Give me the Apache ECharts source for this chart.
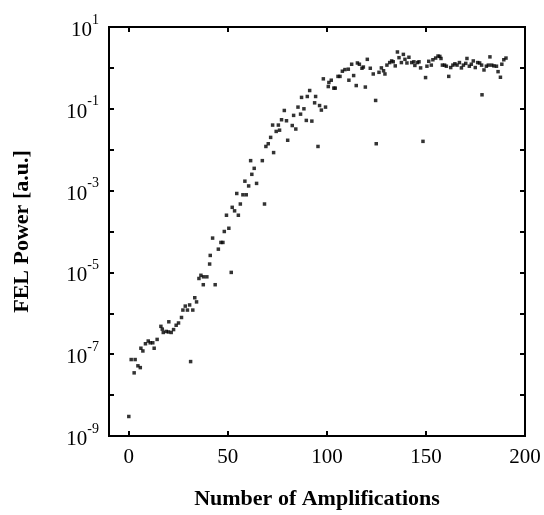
<!DOCTYPE html>
<html>
<head>
<meta charset="utf-8">
<script src="https://cdn.jsdelivr.net/npm/echarts@6/dist/echarts.min.js"></script>
<style>html,body{margin:0;padding:0;background:#fff;}#c{width:544px;height:515px;}</style>
</head>
<body>
<div id="c"></div>
<script>
var amplifications = [0,1.2,2.7,3.2,4.6,5.8,6.1,7.1,8.4,9.8,10.8,12.1,12.8,14.3,16.2,16.9,17.4,18.9,20.2,20,21.4,22.6,23.9,25.1,26.6,27.3,28.5,29.6,30.7,32.3,31.2,33.3,34.2,35.4,36.4,37.7,39.4,37.6,43.6,40.8,41.1,45.2,46.5,47.5,42.3,48.2,50.5,51.7,49.3,55.3,52.2,53.4,56.3,68.5,54.5,57.6,59.3,58.6,60.5,64.5,62.1,63.3,61.5,67.4,73.1,69.2,70.4,71.6,72.6,75.5,74.4,76.1,80.2,77.1,79.6,95.5,78.5,82.5,84.3,83.2,85.4,86.7,88.4,87.2,90.1,91.3,89.6,92.4,93.8,94.3,96.3,97.2,99.3,98.2,101,102.2,100.7,103.5,104.2,105.6,106.6,107.8,109.1,110.8,112.5,115.4,111.1,113.5,114.8,116.4,117.7,118.4,119.4,120.4,121.9,123.4,124.6,124.9,126.3,127.5,128.6,129.3,130.3,131.7,132.7,133.5,134.5,135.6,136.4,137.6,138.6,139.4,140.4,141.4,142.8,143.9,144.4,145.7,146.5,147.3,148.5,149.8,150.5,151.4,152.7,153.5,154.9,156.1,157,157.6,158.3,159.4,160.3,161.5,162.5,163.6,164.6,165.7,166.9,167.9,168.9,170.1,170.7,171.9,172.9,173.9,174.9,176.1,177.1,178.1,178.3,179.3,180.5,181.5,182.3,183.2,184.3,185.6,186.4,187.6,188.3,189.3,190.4];
var power = [3.0e-9,7.4e-8,3.5e-8,7.4e-8,5.2e-8,4.7e-8,1.4e-7,1.2e-7,1.8e-7,2.1e-7,1.9e-7,1.9e-7,1.4e-7,2.3e-7,4.8e-7,4.1e-7,3.4e-7,3.6e-7,6.2e-7,3.5e-7,3.4e-7,4.0e-7,5.1e-7,5.8e-7,7.9e-7,1.2e-6,1.5e-6,1.2e-6,1.6e-6,1.2e-6,6.6e-8,2.4e-6,1.9e-6,7.1e-6,8.5e-6,7.8e-6,7.8e-6,5.0e-6,5.0e-6,1.6e-5,2.6e-5,3.7e-5,5.4e-5,5.4e-5,6.9e-5,1.0e-4,1.2e-4,1.0e-5,2.5e-4,2.5e-4,3.9e-4,3.2e-4,4.7e-4,4.7e-4,8.5e-4,7.9e-4,7.9e-4,1.7e-3,1.3e-3,1.5e-3,2.5e-3,3.5e-3,5.4e-3,5.4e-3,8.5e-3,1.2e-2,1.4e-2,2.0e-2,4.0e-2,4.0e-2,2.8e-2,3.0e-2,1.7e-2,5.4e-2,5.1e-2,1.2e-2,9.1e-2,3.9e-2,3.2e-2,6.9e-2,0.11,7.4e-2,0.10,0.19,0.20,0.28,5.2e-2,5.0e-2,0.14,0.20,0.12,9.3e-2,0.11,0.54,0.44,0.50,0.35,0.32,0.32,0.62,0.62,0.83,0.91,0.93,1.23,1.32,0.50,0.65,0.37,1.23,0.98,1.05,0.34,1.62,0.98,0.71,0.16,0.014,0.78,1.0,0.85,0.71,1.17,1.35,1.48,1.41,1.12,2.45,1.78,1.35,2.14,1.62,1.32,1.82,1.35,1.41,1.15,1.35,1.41,1.0,0.016,0.58,1.10,1.45,1.17,1.58,1.74,1.95,1.91,1.70,1.17,1.17,1.10,0.62,1.02,1.17,1.26,1.17,1.35,1.0,1.17,1.29,1.70,1.10,1.23,1.48,1.02,1.35,1.32,1.17,0.22,0.89,1.10,1.17,1.86,1.17,1.12,1.10,0.81,0.59,1.23,1.58,1.74];
var xTicks = [0, 50, 100, 150, 200];
var yLabelExponents = [1, -1, -3, -5, -7, -9];

var points = amplifications.map(function (a, i) { return [a, power[i]]; });
var serif = '"Liberation Serif", "Times New Roman", serif';

var chart = echarts.init(document.getElementById('c'), null, {renderer: 'canvas'});
function yFmt(v) {
  var e = Math.round(Math.log(v) / Math.LN10);
  if (yLabelExponents.indexOf(e) < 0) return '';
  return '{b|10}{s|' + e + '}';
}
var tickStyle = {show: true, inside: true, length: 5, lineStyle: {color: '#000', width: 2}};
chart.setOption({
  animation: false,
  backgroundColor: '#fff',
  grid: {left: 109, right: 19, top: 27, bottom: 71, show: true, borderColor: '#000', borderWidth: 2, backgroundColor: 'transparent'},
  xAxis: [{
    type: 'value', min: -10, max: 200, interval: 10,
    name: 'Number of Amplifications', nameLocation: 'middle', nameGap: 52,
    nameTextStyle: {fontFamily: serif, fontWeight: 'bold', fontSize: 22, color: '#000'},
    axisLine: {show: true, onZero: false, lineStyle: {color: '#000', width: 2}},
    axisTick: {show: true, inside: true, length: 5, lineStyle: {color: '#000', width: 2},
      customValues: xTicks},
    axisLabel: {fontFamily: serif, fontSize: 21, color: '#000', margin: 11, customValues: xTicks,
      formatter: function (v) { return xTicks.indexOf(v) >= 0 ? String(v) : ''; }},
    splitLine: {show: false}
  }, {
    type: 'value', position: 'top', min: -10, max: 200, interval: 10,
    axisLine: {show: true, onZero: false, lineStyle: {color: '#000', width: 2}},
    axisTick: {show: true, inside: true, length: 5, lineStyle: {color: '#000', width: 2}, customValues: xTicks},
    axisLabel: {show: false},
    splitLine: {show: false}
  }],
  yAxis: [{
    type: 'log', logBase: 10, min: 1e-9, max: 10, interval: 1,
    name: 'FEL Power [a.u.]', nameLocation: 'middle', nameGap: 76, nameRotate: 90,
    nameTextStyle: {fontFamily: serif, fontWeight: 'bold', fontSize: 22, color: '#000'},
    axisLine: {show: true, onZero: false, lineStyle: {color: '#000', width: 2}},
    axisTick: tickStyle,
    minorTick: {show: false},
    axisLabel: {margin: 10, formatter: yFmt,
      rich: {
        b: {fontFamily: serif, fontSize: 21, color: '#000', lineHeight: 28, verticalAlign: 'bottom'},
        s: {fontFamily: serif, fontSize: 14, color: '#000', lineHeight: 28, verticalAlign: 'top'}
      }},
    splitLine: {show: false}
  }, {
    type: 'log', logBase: 10, min: 1e-9, max: 10, interval: 1, position: 'right',
    axisLine: {show: true, onZero: false, lineStyle: {color: '#000', width: 2}},
    axisTick: tickStyle,
    axisLabel: {show: false},
    splitLine: {show: false}
  }],
  series: [{
    type: 'scatter', xAxisIndex: 0, yAxisIndex: 0,
    symbol: 'rect', symbolSize: 3.5,
    itemStyle: {color: '#000'},
    data: points
  }]
});
</script>
</body>
</html>
